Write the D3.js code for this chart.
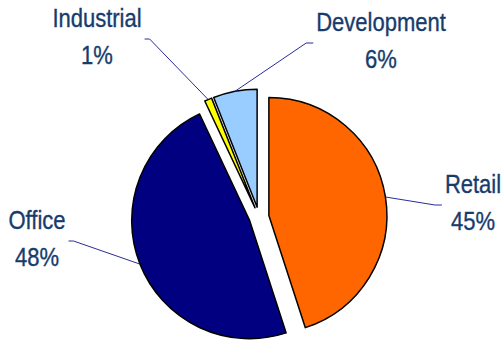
<!DOCTYPE html>
<html>
<head>
<meta charset="utf-8">
<script src="https://cdn.jsdelivr.net/npm/d3@7/dist/d3.min.js"></script>
<style>
  html, body { margin: 0; padding: 0; background: #ffffff; }
  svg { display: block; }
  .lbl { font-family: "Liberation Sans Narrow", "Arial Narrow", "Liberation Sans", sans-serif; font-size: 25px; fill: #173c6c; stroke: #173c6c; stroke-width: 0.35px; }
</style>
</head>
<body>
<svg id="chart" width="502" height="340"></svg>
<script>
// Portfolio split by property type
const categories = ["Retail", "Office", "Industrial", "Development"];
const shares = [45, 48, 1, 6];
const sliceColors = ["#FF6600", "#000080", "#FFFF00", "#99CCFF"];

// Label blocks: centre x, first baseline, side the leader line enters from
const labelLayout = [
  { x: 473, y: 193, side: "left" },
  { x: 37,  y: 229, side: "right" },
  { x: 97,  y: 27,  side: "right" },
  { x: 381, y: 31,  side: "left" }
];

const W = 502, H = 340;
const cx = 259, cy = 217, radius = 118, explode = 10;
const narrow = 0.88; // horizontal condensing of the label face

const svg = d3.select("#chart");

const pie = d3.pie().sort(null).value(d => d)(shares);
const arc = d3.arc().innerRadius(0).outerRadius(radius);

const mid = d => (d.startAngle + d.endAngle) / 2;
const offset = d => [explode * Math.sin(mid(d)), -explode * Math.cos(mid(d))];

const g = svg.append("g").attr("transform", `translate(${cx},${cy})`);

g.selectAll("path.slice")
  .data(pie)
  .join("path")
  .attr("class", "slice")
  .attr("transform", d => `translate(${offset(d)})`)
  .attr("d", arc)
  .attr("fill", (d, i) => sliceColors[i])
  .attr("stroke", "#000")
  .attr("stroke-width", 1.5)
  .attr("stroke-linejoin", "round");

// Text labels (name + percentage), condensed horizontally
const labels = svg.selectAll("g.label")
  .data(pie)
  .join("g")
  .attr("class", "label")
  .attr("transform", (d, i) => `translate(${labelLayout[i].x},${labelLayout[i].y}) scale(${narrow},1)`);

labels.append("text")
  .attr("class", "lbl")
  .attr("text-anchor", "middle")
  .attr("x", 0)
  .attr("y", 0)
  .text((d, i) => categories[i]);

labels.append("text")
  .attr("class", "lbl")
  .attr("text-anchor", "middle")
  .attr("x", 0)
  .attr("y", 37)
  .text((d, i) => shares[i] + "%");

// Leader lines from each slice's outer arc midpoint to its label block
labels.each(function (d, i) {
  const box = this.getBBox();
  const L = labelLayout[i];
  const left = L.x + box.x * narrow;
  const right = L.x + (box.x + box.width) * narrow;
  const o = offset(d);
  const a = mid(d);
  const sx = cx + o[0] + radius * Math.sin(a);
  const sy = cy + o[1] - radius * Math.cos(a);
  const ey = L.y + 12;
  const ex = L.side === "left" ? left - 3 : right + 3;
  const kx = L.side === "left" ? ex - 7 : ex + 5;
  svg.insert("path", "g.label")
    .attr("d", `M${sx},${sy}L${kx},${ey}L${ex},${ey}`)
    .attr("fill", "none")
    .attr("stroke", "#2b2b9a")
    .attr("stroke-width", 1);
});
</script>
</body>
</html>
